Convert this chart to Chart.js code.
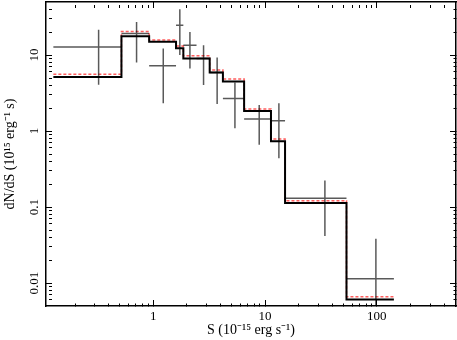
<!DOCTYPE html>
<html>
<head>
<meta charset="utf-8">
<script src="https://cdn.jsdelivr.net/npm/chart.js@4"></script>
<style>
  body { margin: 0; background: #fff; }
  #wrap { width: 457px; height: 340px; }
</style>
</head>
<body>
<div id="wrap"><canvas id="chart"></canvas></div>
<script>
// model histograms: bin edges (S) and heights (dN/dS)
let binEdges = [0.128, 0.52, 0.92, 1.6, 1.86, 2.44, 3.2, 4.2, 6.5, 11.3, 15.1, 53.5, 142];
let modelBlack = [5.15, 17.7, 15.0, 12.3, 9.0, 9.0, 5.9, 4.5, 1.84, 0.735, 0.113, 0.00607];
let modelRed = [5.6, 20.4, 15.8, 13.2, 9.8, 9.8, 6.36, 4.84, 1.96, 0.79, 0.121, 0.0066];

// measured points with error bars
let pointS = [0.325, 0.71, 1.23, 1.73, 2.13, 2.82, 3.73, 5.38, 8.87, 13.3, 34.3, 98];
let pointSLo = [0.128, 0.52, 0.92, 1.6, 1.86, 2.44, 3.2, 4.2, 6.5, 11.3, 15.1, 53.5];
let pointSHi = [0.52, 0.92, 1.6, 1.86, 2.44, 3.2, 4.2, 6.5, 11.3, 15.1, 53.5, 142];
let pointN = [12.8, 19.2, 7.24, 24.8, 13.5, 9.0, 5.9, 2.69, 1.445, 1.37, 0.131, 0.0114];
let pointNLo = [4.07, 8.0, 2.32, 10, 6.67, 4.04, 2.27, 1.09, 0.66, 0.44, 0.0417, 0.003];
let pointNHi = [21.5, 27.3, 12.2, 40.2, 20.2, 13.5, 9.3, 4.36, 2.21, 2.32, 0.224, 0.0383];

// axis ticks
let xTicks = [0.2, 0.3, 0.4, 0.5, 0.6, 0.7, 0.8, 0.9, 1, 2, 3, 4, 5, 6, 7, 8, 9,
    10, 20, 30, 40, 50, 60, 70, 80, 90, 100, 200, 300, 400, 500];
let xLabels = [1, 10, 100];
let yTicks = [0.006, 0.007, 0.008, 0.009, 0.01, 0.02, 0.03, 0.04, 0.05, 0.06, 0.07, 0.08, 0.09,
    0.1, 0.2, 0.3, 0.4, 0.5, 0.6, 0.7, 0.8, 0.9, 1, 2, 3, 4, 5, 6, 7, 8, 9, 10, 20, 30, 40];
let yLabels = [0.01, 0.1, 1, 10];

let serif = "'Liberation Serif', 'Times New Roman', serif";
Chart.defaults.font.family = serif;
Chart.defaults.color = '#000';

let makeSteps = (edges, heights) => {
    let pts = heights.map((h, i) => ({ x: edges[i], y: h }));
    pts.push({ x: edges[edges.length - 1], y: heights[heights.length - 1] });
    return pts;
}

let makeErrorBars = () => {
    let pts = [];
    for (let i = 0; i < pointS.length; i++) {
        pts.push({ x: pointSLo[i], y: pointN[i] }, { x: pointSHi[i], y: pointN[i] }, { x: pointSHi[i], y: null });
        pts.push({ x: pointS[i], y: pointNLo[i] }, { x: pointS[i], y: pointNHi[i] }, { x: pointS[i], y: null });
    }
    return pts;
}

let setTicks = (list) => (axis) => {
    axis.ticks = list.map(v => ({ value: v }));
}

// fix an axis box size and drop the label overflow padding
let fixSize = (w, h) => (scale) => {
    if (w !== null) scale.width = w;
    if (h !== null) scale.height = h;
    scale.paddingLeft = 0;
    scale.paddingRight = 0;
    scale.paddingTop = 0;
    scale.paddingBottom = 0;
}

let tickGrid = (major) => ({
    drawOnChartArea: false,
    drawTicks: true,
    tickLength: -6,
    tickColor: '#000',
    tickWidth: 1,
    tickBorderDash: (ctx) => (ctx.tick && major.includes(ctx.tick.value)) ? [] : [3, 20]
});

let border = { display: true, color: '#000', width: 1.5 };

let createChart = (id) => {
    let ctx = document.querySelector(id).getContext('2d');
    return new Chart(ctx, {
        type: 'line',
        data: {
            datasets: [
                {
                    data: makeSteps(binEdges, modelBlack),
                    stepped: 'before',
                    borderColor: '#000',
                    borderWidth: 2,
                    pointRadius: 0,
                    order: 0
                },
                {
                    data: makeErrorBars(),
                    borderColor: 'rgba(0,0,0,0.65)',
                    borderWidth: 1.5,
                    pointRadius: 0,
                    spanGaps: false,
                    order: 1
                },
                {
                    data: makeSteps(binEdges, modelRed),
                    stepped: 'before',
                    borderColor: 'rgba(255,40,40,0.75)',
                    borderDash: [3, 2],
                    borderWidth: 1.5,
                    pointRadius: 0,
                    order: 2
                }
            ]
        },
        options: {
            responsive: true,
            maintainAspectRatio: false,
            animation: false,
            layout: { padding: { top: 2, right: 1, left: 0, bottom: 0 } },
            plugins: { legend: { display: false }, tooltip: { enabled: false } },
            scales: {
                x: {
                    type: 'logarithmic',
                    position: 'bottom',
                    min: 0.11,
                    max: 510,
                    bounds: 'data',
                    afterBuildTicks: setTicks(xTicks),
                    afterFit: fixSize(null, 34),
                    grid: tickGrid(xLabels),
                    border: border,
                    ticks: {
                        autoSkip: false,
                        maxRotation: 0,
                        padding: 9,
                        font: { size: 13 },
                        callback: (v) => xLabels.includes(v) ? String(v) : ''
                    },
                    title: {
                        display: true,
                        text: 'S (10⁻¹⁵ erg s⁻¹)',
                        font: { size: 14 },
                        padding: { top: 0, bottom: 1 }
                    }
                },
                x2: {
                    type: 'logarithmic',
                    position: 'top',
                    min: 0.11,
                    max: 510,
                    bounds: 'data',
                    afterBuildTicks: setTicks(xTicks),
                    afterFit: fixSize(null, 0),
                    grid: tickGrid(xLabels),
                    border: border,
                    ticks: { display: false, autoSkip: false }
                },
                y: {
                    type: 'logarithmic',
                    position: 'left',
                    min: 0.005,
                    max: 50,
                    bounds: 'data',
                    afterBuildTicks: setTicks(yTicks),
                    afterFit: fixSize(46, null),
                    grid: tickGrid(yLabels),
                    border: border,
                    ticks: {
                        autoSkip: false,
                        minRotation: 90,
                        maxRotation: 90,
                        crossAlign: 'center',
                        padding: 6,
                        font: { size: 13 },
                        callback: (v) => yLabels.includes(v) ? String(v) : ''
                    },
                    title: {
                        display: true,
                        text: 'dN/dS (10¹⁵ erg⁻¹ s)',
                        font: { size: 14 },
                        padding: { top: 2, bottom: 0 }
                    }
                },
                y2: {
                    type: 'logarithmic',
                    position: 'right',
                    min: 0.005,
                    max: 50,
                    bounds: 'data',
                    afterBuildTicks: setTicks(yTicks),
                    afterFit: fixSize(0, null),
                    grid: tickGrid(yLabels),
                    border: border,
                    ticks: { display: false, autoSkip: false }
                }
            }
        }
    });
}

let chart = createChart('#chart');
</script>
</body>
</html>
